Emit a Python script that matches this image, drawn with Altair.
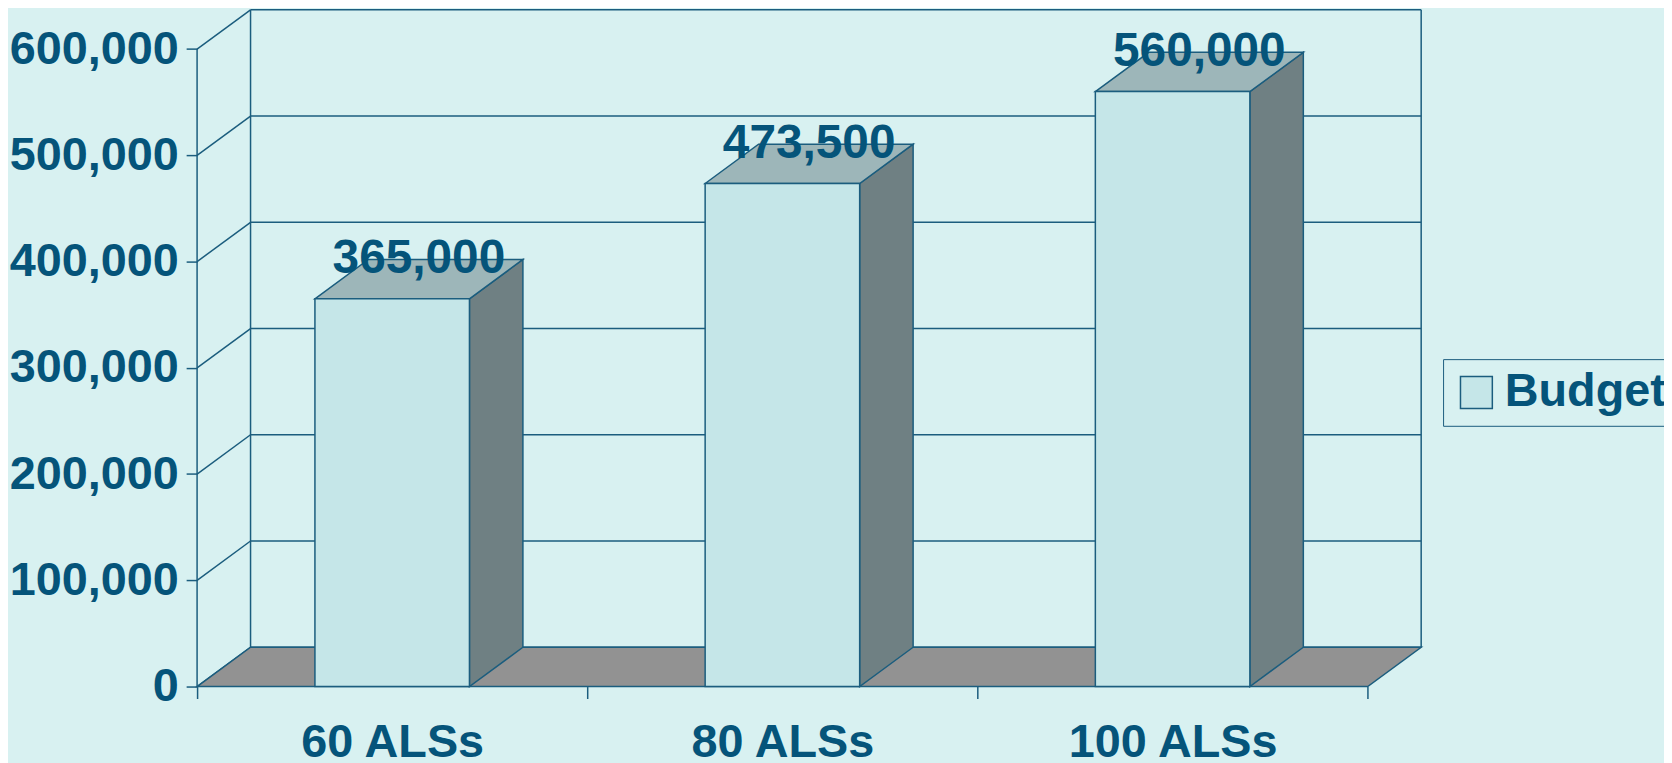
import json
import altair as alt
import pandas as pd

# ---- data ----
categories = ["60 ALSs", "80 ALSs", "100 ALSs"]
budget = [365000, 473500, 560000]
series_name = "Budget"
y_ticks = [0, 100000, 200000, 300000, 400000, 500000, 600000]

# ---- layout constants (x units: one category = 1 unit) ----
BAR_L, BAR_R = 0.302, 0.698   # front face inside its category
DX = 0.137                    # 3-D depth, x units
DV = 37000                    # 3-D depth, y units
N = len(categories)
YMAX = y_ticks[-1]

TEXT = "#05547a"
LINE = "#1b5d7e"
FRONT = "#c5e6e8"
TOP = "#9db6b9"
SIDE = "#6f8083"
FLOOR = "#929292"
BG = "#d8f1f1"
FONT = "Liberation Sans"
FS = 47
W = 1230

xs = alt.Scale(domain=[0, N + DX], nice=False, zero=False)
ys = alt.Scale(domain=[0, YMAX + DV], nice=False, zero=False)

# ---- tables built from the arrays ----
front = pd.DataFrame({
    "cat": categories,
    "value": budget,
    "series": [series_name] * N,
    "x0": [i + BAR_L for i in range(N)],
    "x1": [i + BAR_R for i in range(N)],
    "lx": [i + (BAR_L + BAR_R) / 2 + DX / 2 for i in range(N)],
})
front["ly"] = front["value"] + DV

top_rows, side_rows = [], []
for i, v in enumerate(budget):
    x0, x1 = i + BAR_L, i + BAR_R
    top_rows += [
        {"bar": i, "x": x0, "hi": v, "lo": v},
        {"bar": i, "x": x0 + DX, "hi": v + DV, "lo": v},
        {"bar": i, "x": x1, "hi": v + DV, "lo": v},
        {"bar": i, "x": x1 + DX, "hi": v + DV, "lo": v + DV},
    ]
    side_rows += [
        {"bar": i, "x": x1, "hi": v, "lo": 0},
        {"bar": i, "x": x1 + DX, "hi": v + DV, "lo": DV},
    ]
top_df = pd.DataFrame(top_rows)
side_df = pd.DataFrame(side_rows)

floor_df = pd.DataFrame([
    {"x": 0, "hi": 0, "lo": 0},
    {"x": DX, "hi": DV, "lo": 0},
    {"x": N, "hi": DV, "lo": 0},
    {"x": N + DX, "hi": DV, "lo": DV},
])

grid_df = pd.DataFrame({"v": y_ticks})
grid_df["vb"] = grid_df["v"] + DV
grid_df["xa"] = 0.0
grid_df["xb"] = DX
grid_df["xe"] = N + DX

walls_df = pd.DataFrame({"x": [DX, N + DX], "y": [DV, DV], "y2": [YMAX + DV, YMAX + DV]})
axis_line_df = pd.DataFrame({"x": [0.0], "y": [0], "y2": [YMAX]})

label_array = json.dumps(categories)


def X(field):
    return alt.X(field, scale=xs, title=None)


def Y(field):
    return alt.Y(field, scale=ys, title=None)


# ---- layers ----
back_grid = alt.Chart(grid_df).mark_rule(color=LINE, strokeWidth=1.5).encode(
    x=X("xb:Q"), x2="xe:Q", y=Y("vb:Q"),
)
diag = alt.Chart(grid_df).mark_rule(color=LINE, strokeWidth=1.5).encode(
    x=X("xa:Q"), x2="xb:Q", y=Y("v:Q"), y2="vb:Q",
)
walls = alt.Chart(walls_df).mark_rule(color=LINE, strokeWidth=1.5).encode(
    x=X("x:Q"), y=Y("y:Q"), y2="y2:Q",
)
axis_line = alt.Chart(axis_line_df).mark_rule(color=LINE, strokeWidth=1.5).encode(
    x=X("x:Q"), y=Y("y:Q"), y2="y2:Q",
)
floor = alt.Chart(floor_df).mark_area(
    fill=FLOOR, stroke=LINE, strokeWidth=1.5, fillOpacity=1, interpolate="linear"
).encode(x=X("x:Q"), y=Y("hi:Q"), y2="lo:Q")
side = alt.Chart(side_df).mark_area(
    fill=SIDE, stroke=LINE, strokeWidth=1.5, fillOpacity=1, interpolate="linear"
).encode(x=X("x:Q"), y=Y("hi:Q"), y2="lo:Q", detail="bar:N")
top = alt.Chart(top_df).mark_area(
    fill=TOP, stroke=LINE, strokeWidth=1.5, fillOpacity=1, interpolate="linear"
).encode(x=X("x:Q"), y=Y("hi:Q"), y2="lo:Q", detail="bar:N")

bars = alt.Chart(front).mark_rect(stroke=LINE, strokeWidth=1.5, opacity=1).encode(
    x=alt.X(
        "x0:Q", scale=xs, title=None,
        axis=alt.Axis(
            values=list(range(N + 1)),
            labelExpr=f"datum.value < {N} ? {label_array}[datum.value] : ''",
            labelOffset=W / (N + DX) / 2, labelFlush=False, labelBound=False,
            labelOverlap=False,
            tickSize=12, tickWidth=1.5, tickColor=LINE, domain=False, grid=False,
            labelPadding=21, labelFont=FONT, labelFontSize=FS, labelFontWeight="bold",
            labelColor=TEXT, labelLimit=0, title=None,
        ),
    ),
    x2="x1:Q",
    y=alt.Y(
        "value:Q", scale=ys, title=None,
        axis=alt.Axis(
            values=y_ticks, labelExpr="format(datum.value, ',')",
            tickSize=11, tickWidth=1.5, tickColor=LINE,
            domain=False, grid=False, labelPadding=8, labelFont=FONT, labelFontSize=FS,
            labelFontWeight="bold", labelColor=TEXT, labelOverlap=False, labelLimit=0,
            labelFlush=False, title=None,
        ),
    ),
    y2=alt.datum(0),
    color=alt.Color(
        "series:N",
        scale=alt.Scale(domain=[series_name], range=[FRONT]),
        legend=alt.Legend(
            orient="none", legendX=1252, legendY=351, title=None,
            symbolType="square", symbolSize=1024, symbolStrokeColor=LINE,
            symbolStrokeWidth=1.5, symbolOpacity=1,
            labelFont=FONT, labelFontSize=FS, labelFontWeight="bold", labelColor=TEXT,
            labelOffset=5, labelLimit=0, strokeColor=LINE, padding=10,
        ),
    ),
)
labels = alt.Chart(front).mark_text(
    font=FONT, fontSize=FS + 1, fontWeight="bold", color=TEXT, align="center", baseline="middle"
).encode(
    x=X("lx:Q"), y=Y("ly:Q"),
    text=alt.Text("value:Q", format=","),
)

chart = alt.layer(
    back_grid, walls, diag, floor, axis_line, side, top, bars, labels
).properties(
    width=W,
    height=680,
    autosize="none",
    padding={"left": 190, "top": 0, "right": 1664 - 190 - W, "bottom": 75},
    background=BG,
).configure_view(stroke=None)

chart.save("out.html", embed_options={"renderer": "svg", "actions": False})
